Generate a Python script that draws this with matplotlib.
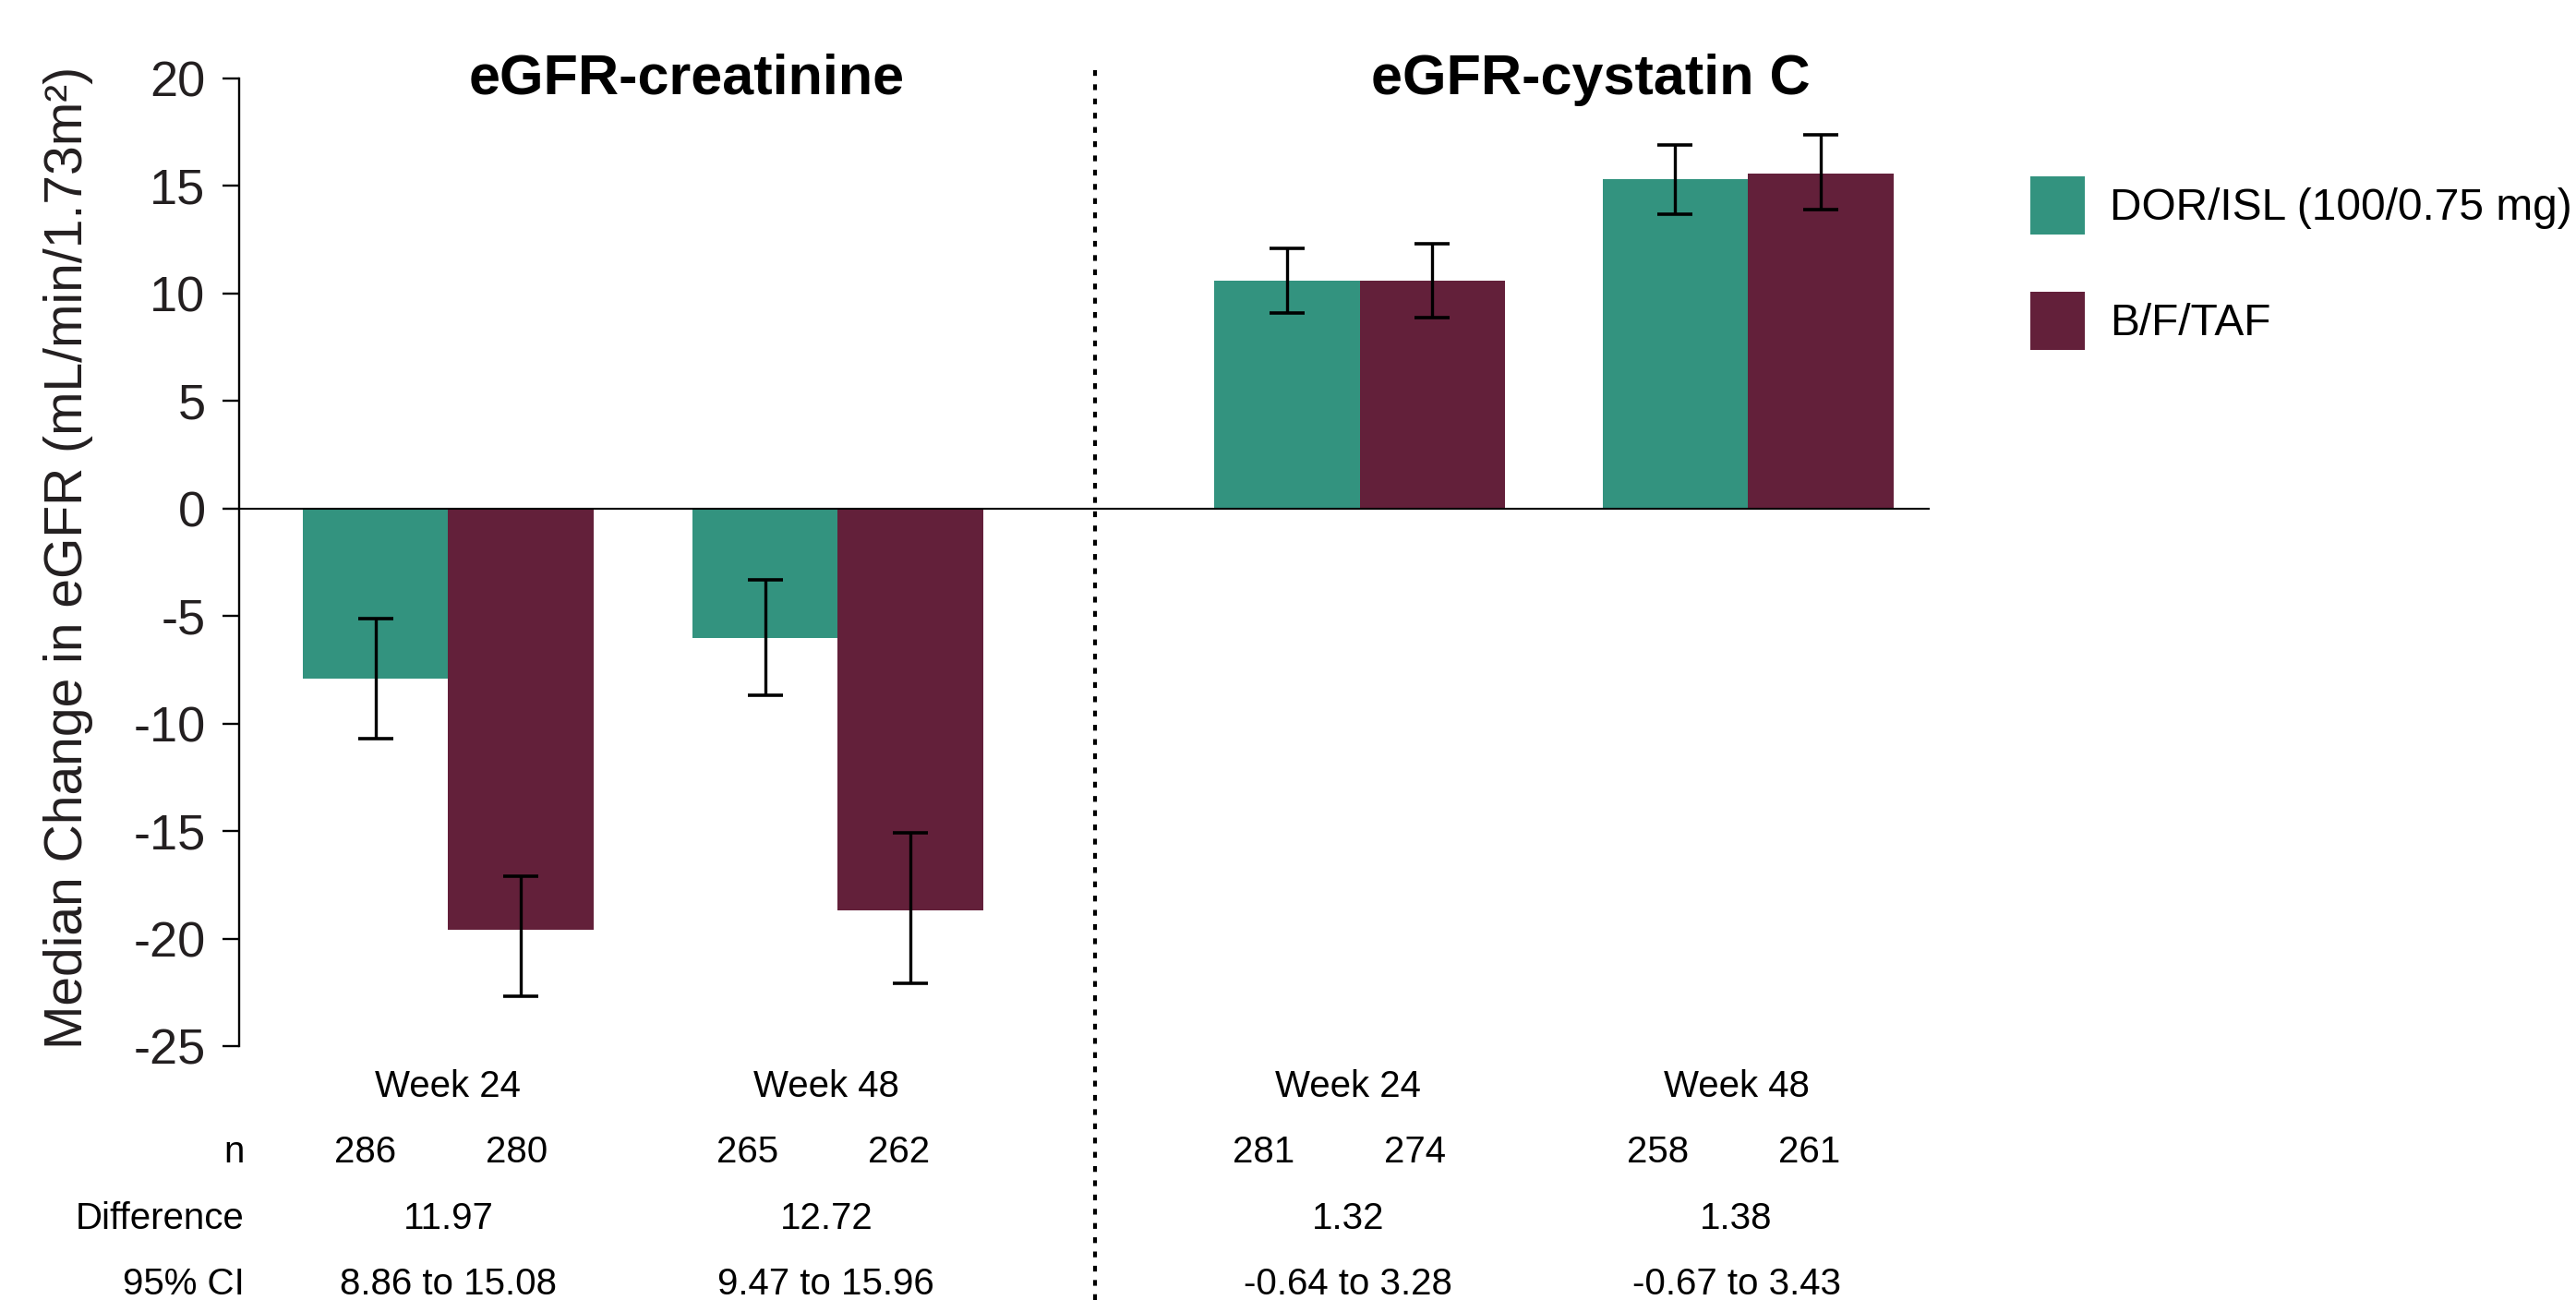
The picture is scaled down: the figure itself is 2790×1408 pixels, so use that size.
import matplotlib
matplotlib.use('Agg')
import numpy as np
import matplotlib.pyplot as plt
import matplotlib.transforms as mtransforms
from matplotlib import font_manager

# fonts: regular Arial look-alike, narrow one for the table under the bars
installed = {f.name for f in font_manager.fontManager.ttflist}
if 'Liberation Sans Narrow' in installed:
	narrow, table_size = 'Liberation Sans Narrow', 35
else:
	narrow, table_size = 'Liberation Sans', 29
plt.rcParams['font.family'] = ['Liberation Sans', 'DejaVu Sans']
plt.rcParams['axes.unicode_minus'] = False

#Data
panels = ['eGFR-creatinine', 'eGFR-cystatin C']
weeks = ['Week 24', 'Week 48', 'Week 24', 'Week 48']
groups = ['DOR/ISL (100/0.75 mg)', 'B/F/TAF']
dor_median = [-7.9, -6.0, 10.6, 15.3]
dor_lo = [-10.7, -8.7, 9.1, 13.7]
dor_hi = [-5.1, -3.3, 12.1, 16.9]
btaf_median = [-19.6, -18.7, 10.6, 15.6]
btaf_lo = [-22.7, -22.1, 8.9, 13.9]
btaf_hi = [-17.1, -15.1, 12.3, 17.4]
n_dor = [286, 265, 281, 258]
n_btaf = [280, 262, 274, 261]
difference = ['11.97', '12.72', '1.32', '1.38']
ci_95 = ['8.86 to 15.08', '9.47 to 15.96', '-0.64 to 3.28', '-0.67 to 3.43']

teal = '#33937f'
maroon = '#63203a'
txt = '#231f20'

#layout
pos = np.array([1.44, 4.12, 7.71, 10.38])
col_x = [1.44, 4.04, 7.63, 10.30]
n_x = [1.39, 4.02, 7.57, 10.28]
title_x = [3.08, 9.30]
divider_x = 5.89

fig = plt.figure(figsize=(27.9, 14.08), dpi=100)
ax = fig.add_axes([0.0927, 0.1953, 0.7491 - 0.0927, 0.9396 - 0.1953])

dor = np.array(dor_median)
bt = np.array(btaf_median)
b1 = ax.bar(pos - 0.5, dor, width=1, color=teal, label=groups[0], zorder=2)
b2 = ax.bar(pos + 0.5, bt, width=1, color=maroon, label=groups[1], zorder=2)
ax.errorbar(pos - 0.5, dor, yerr=[dor - np.array(dor_lo), np.array(dor_hi) - dor],
	fmt='none', ecolor='black', elinewidth=2.4, capsize=14, capthick=2.6, zorder=3)
ax.errorbar(pos + 0.5, bt, yerr=[bt - np.array(btaf_lo), np.array(btaf_hi) - bt],
	fmt='none', ecolor='black', elinewidth=2.4, capsize=14, capthick=2.6, zorder=3)
ax.axhline(0, color='black', lw=1.5, zorder=4)

ax.set_xlim(0, 11.63)
ax.set_ylim(-25, 20)
ax.set_yticks(range(-25, 21, 5))
ax.set_xticks([])
for s in ['top', 'right', 'bottom']:
	ax.spines[s].set_visible(False)
ax.spines['left'].set_linewidth(1.7)
ax.tick_params(axis='y', length=13, width=1.7, pad=13, labelsize=39, labelcolor=txt)

fig.text(0.0265, 0.571, 'Median Change in eGFR (mL/min/1.73m²)', rotation=90,
	ha='center', va='center', fontsize=41, color=txt)

# x in data, y in figure fraction
tr = mtransforms.blended_transform_factory(ax.transData, fig.transFigure)

for t, x in zip(panels, title_x):
	ax.text(x, 0.9276, t, transform=tr, ha='center', va='baseline',
		fontsize=44, fontweight='bold', color='black')

ax.plot([divider_x, divider_x], [0, 0.9467], transform=tr, clip_on=False,
	color='black', lw=3, linestyle=(0, (1.5, 2.2)))

#table under the bars
rows_y = [0.1563, 0.1058, 0.0547, 0.0043]
tkw = dict(transform=tr, va='baseline', fontsize=table_size, family=narrow, color='black')
for lab, y in zip(['n', 'Difference', '95% CI'], rows_y[1:]):
	ax.text(0.04, y, lab, ha='right', **tkw)
for i in range(4):
	ax.text(col_x[i], rows_y[0], weeks[i], ha='center', **tkw)
	ax.text(n_x[i] - 0.52, rows_y[1], str(n_dor[i]), ha='center', **tkw)
	ax.text(n_x[i] + 0.52, rows_y[1], str(n_btaf[i]), ha='center', **tkw)
	ax.text(col_x[i], rows_y[2], difference[i], ha='center', **tkw)
	ax.text(col_x[i], rows_y[3], ci_95[i], ha='center', **tkw)

fig.legend(handles=[b1, b2], loc='upper left', bbox_to_anchor=(0.7882, 0.8640),
	frameon=False, fontsize=34.5, borderpad=0, borderaxespad=0,
	handlelength=1.23, handleheight=1.63, labelspacing=1.3, handletextpad=0.56)

fig.savefig('out.png', dpi=100)
